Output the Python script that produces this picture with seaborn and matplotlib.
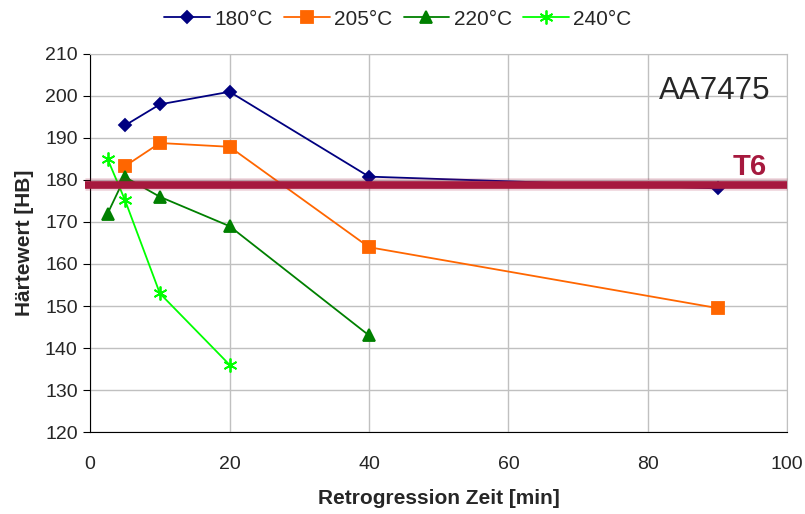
import numpy as np
import pandas as pd
import seaborn as sns
import matplotlib.pyplot as plt

# data
t_180 = [5, 10, 20, 40, 90]
hb_180 = [193, 198, 201, 180.8, 178]
t_205 = [5, 10, 20, 40, 90]
hb_205 = [183.3, 188.8, 187.9, 164, 149.5]
t_220 = [2.5, 5, 10, 20, 40]
hb_220 = [172, 180.7, 176, 169, 143]
t_240 = [2.5, 5, 10, 20]
hb_240 = [185, 175.2, 153, 136]
t6_level = 178.7

series = ["180°C", "205°C", "220°C", "240°C"]
colors = ["#000080", "#FF6600", "#008000", "#00FF00"]
markers = ["D", "s", "^", (6, 2, 0)]
msizes = [6.5, 8, 8.5, 10]
times = [t_180, t_205, t_220, t_240]
values = [hb_180, hb_205, hb_220, hb_240]

sns.set_style("white")
plt.rcParams["font.family"] = ["Liberation Sans", "DejaVu Sans"]

fig = plt.figure(figsize=(8.05, 5.14), dpi=100)
ax = fig.add_axes([0.112, 0.1595, 0.866, 0.7355])

for name, t, hb, c, m, ms in zip(series, times, values, colors, markers, msizes):
    df = pd.DataFrame({"t": t, "hb": hb})
    sns.lineplot(data=df, x="t", y="hb", color=c, marker=m, markersize=ms,
                 markeredgecolor=c, markeredgewidth=1.3, linewidth=1.3,
                 label=name, ax=ax, zorder=5)

# T6 reference line, drawn over the series
ax.axhline(t6_level, xmin=-0.008, xmax=1.0, color="#A6193E", linewidth=5.5,
           clip_on=False, zorder=7, solid_capstyle="butt")
ax.axhline(t6_level + 0.4, xmin=-0.008, xmax=1.0, color="#A6193E", alpha=0.2,
           linewidth=9, clip_on=False, zorder=6, solid_capstyle="butt")
ax.text(97, 181.2, "T6", color="#A6193E", fontsize=21, fontweight="bold",
        ha="right", va="baseline")
ax.text(97.6, 199.3, "AA7475", fontsize=22.5, ha="right", va="baseline")

ax.set_xlim(0, 100)
ax.set_ylim(120, 210)
ax.set_xticks(np.arange(0, 101, 20))
ax.set_yticks(np.arange(120, 211, 10))
ax.grid(True, color="#C0C0C0", linewidth=1)
ax.tick_params(axis="both", labelsize=14, length=5, direction="out",
               left=True, bottom=False, color="black")
ax.tick_params(axis="x", pad=12)
ax.tick_params(axis="y", pad=4)
for side in ["top", "right"]:
    ax.spines[side].set_color("#C0C0C0")
for side in ["left", "bottom"]:
    ax.spines[side].set_color("black")

ax.set_xlabel("Retrogression Zeit [min]", fontsize=15, fontweight="bold",
              labelpad=12)
ax.set_ylabel("Härtewert [HB]", fontsize=15, fontweight="bold", labelpad=8)

leg = fig.legend(*ax.get_legend_handles_labels(), loc="center",
                 bbox_to_anchor=(0.494, 0.963), ncol=4, frameon=False,
                 fontsize=15, handlelength=2.2, columnspacing=0.55,
                 handletextpad=0.2)
ax.get_legend().remove()

fig.savefig("out.png", dpi=100)
